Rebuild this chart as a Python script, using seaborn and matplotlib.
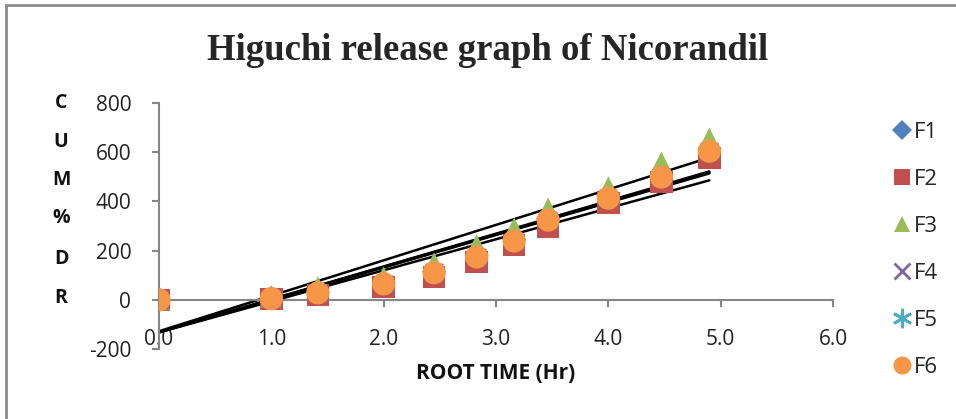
import numpy as np
import pandas as pd
import matplotlib
matplotlib.use("Agg")
import matplotlib.pyplot as plt
import seaborn as sns
from matplotlib.patches import Rectangle
from matplotlib.lines import Line2D

# ---- data ----
root_time = [0.0, 1.0, 1.414, 2.0, 2.449, 2.828, 3.162, 3.464, 4.0, 4.472, 4.899]
series_names = ["F1", "F2", "F3", "F4", "F5", "F6"]
F1 = [0, 8, 30, 70, 115, 180, 245, 330, 420, 505, 612]
F2 = [0, 3, 20, 53, 93, 154, 223, 296, 393, 478, 576]
F3 = [0, 12, 53, 93, 150, 223, 292, 373, 459, 560, 657]
F4 = [0, 6, 28, 66, 112, 176, 241, 326, 415, 501, 606]
F5 = [0, 7, 29, 68, 114, 178, 243, 328, 417, 503, 608]
F6 = [0, 5, 28, 65, 110, 174, 239, 324, 413, 499, 604]
series_values = [F1, F2, F3, F4, F5, F6]
x_ticks = [0, 1, 2, 3, 4, 5, 6]
y_ticks = [-200, 0, 200, 400, 600, 800]

colors = {"F1": "#4F81BD", "F2": "#C0504D", "F3": "#9BBB59",
          "F4": "#8064A2", "F5": "#4BACC6", "F6": "#F79646"}
markers = {"F1": "D", "F2": "s", "F3": "^", "F4": "x", "F5": (6, 2, 0), "F6": "o"}
sizes = {"F1": 150, "F2": 260, "F3": 230, "F4": 150, "F5": 150, "F6": 280}

sns.set_theme(style="white")
plt.rcParams['font.family'] = ['Open Sans', 'DejaVu Sans']

fig = plt.figure(figsize=(9.56, 4.19), dpi=100)
W, H = 956, 419
ax = fig.add_axes([159 / W, 1 - 349 / H, (833 - 159) / W, (349 - 103) / H])

# frame around chart
fig.patches.append(Rectangle((6 / W, -0.1), 1.2, 1 - 5 / H + 0.1, transform=fig.transFigure,
                             fill=False, edgecolor="#8c8c8c", linewidth=2))

# trendlines
for name, vals in zip(series_names, series_values):
    sns.regplot(x=np.array(root_time), y=np.array(vals), ax=ax, scatter=False, ci=None,
                truncate=True, color="black", line_kws=dict(linewidth=1.8))

# markers
for name, vals in zip(series_names, series_values):
    df = pd.DataFrame({"x": root_time, "y": vals})
    m = markers[name]
    filled = m not in ("x",) and not isinstance(m, tuple)
    if filled:
        sns.scatterplot(data=df, x="x", y="y", ax=ax, marker=m, s=sizes[name],
                        color=colors[name], edgecolor="none", linewidth=0, zorder=3)
    else:
        sns.scatterplot(data=df, x="x", y="y", ax=ax, marker=m, s=sizes[name],
                        color=colors[name], linewidth=2, zorder=3)

ax.set_xlim(0, 6)
ax.set_ylim(-200, 800)
ax.set_xticks(x_ticks)
ax.set_xticklabels([f"{v:.1f}" for v in x_ticks])
ax.set_yticks(y_ticks)
ax.set_yticklabels([str(v) for v in y_ticks])
ax.set_xlabel("")
ax.set_ylabel("")

for s in ["top", "right"]:
    ax.spines[s].set_visible(False)
ax.spines["bottom"].set_position(("data", 0))
for s in ["left", "bottom"]:
    ax.spines[s].set_color("#868686")
    ax.spines[s].set_linewidth(1.5)
ax.tick_params(axis="both", direction="out", length=5, width=1.5, color="#868686",
               labelsize=15, labelcolor="#222222")
ax.tick_params(axis="x", pad=16, bottom=True)
ax.tick_params(axis="y", pad=15, left=True)
ax.patch.set_alpha(0)

# title
fig.text(488 / W, 1 - 51 / H, "Higuchi release graph of Nicorandil", ha="center", va="center",
         fontsize=26.5, fontweight="bold", family=["Liberation Serif"])

# y label as stacked letters
for ch, yp in zip(["C", "U", "M", "%", "D", "R"], [103, 142, 180, 218, 259, 298]):
    fig.text(61 / W, 1 - yp / H, ch, ha="center", va="center", fontsize=14,
             fontweight="bold", color="#111111")

# x label
fig.text(496 / W, 1 - 373 / H, "ROOT TIME (Hr)", ha="center", va="center", fontsize=15,
         fontweight="bold", color="#111111")

# legend
handles = []
for name in series_names:
    m = markers[name]
    if m == "x":
        h = Line2D([], [], linestyle="none", marker=m, color=colors[name], markersize=11,
                   markeredgewidth=2)
    elif isinstance(m, tuple):
        h = Line2D([], [], linestyle="none", marker=m, color=colors[name], markersize=14,
                   markeredgewidth=2)
    else:
        h = Line2D([], [], linestyle="none", marker=m, color=colors[name],
                   markersize={"D": 10, "s": 12, "^": 12, "o": 13}[m], markeredgewidth=0)
    handles.append(h)
fig.legend(handles, series_names, loc="upper left", bbox_to_anchor=(882 / W, 1 - 113 / H),
           frameon=False, fontsize=16, handletextpad=0.05, labelspacing=1.17,
           handlelength=1.0, borderaxespad=0)

fig.savefig("out.png", dpi=100)
